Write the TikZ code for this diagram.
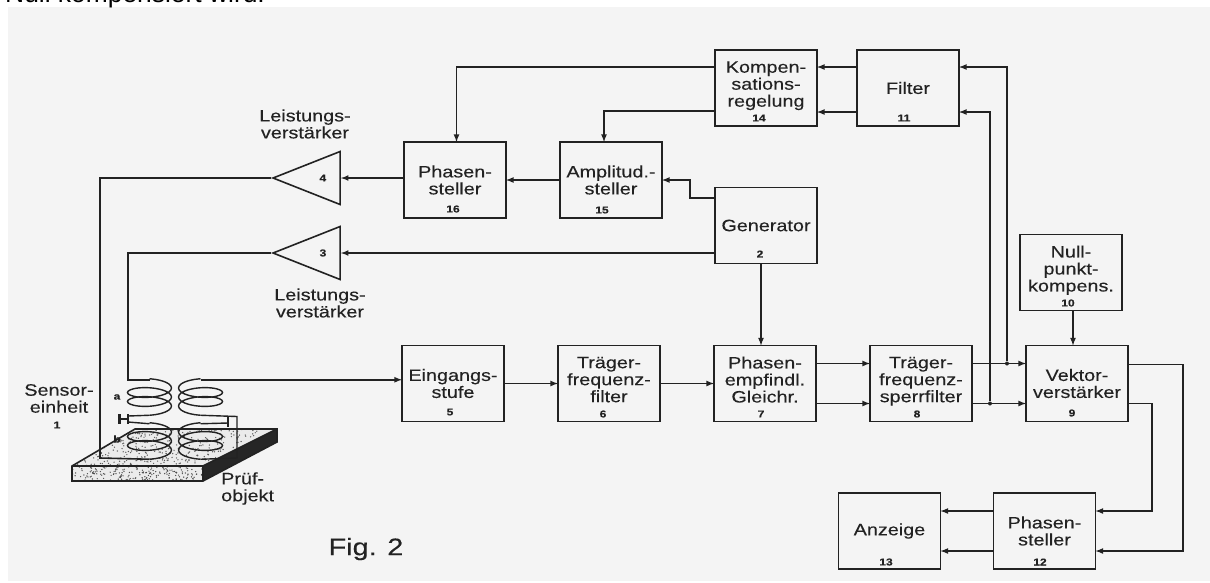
\documentclass[tikz,border=0pt]{standalone}
\usepackage{fontspec}
\setmainfont[FakeStretch=1.2,FakeBold=0.2]{Liberation Sans}
\newfontfamily\plainfont{Liberation Sans}
\usetikzlibrary{shapes,arrows,positioning}
\definecolor{PageGray}{RGB}{244, 244, 244}
\definecolor{Ink}{RGB}{34, 34, 34}
\newcommand{\drawcoil}[3]{\draw[coil] plot[smooth, domain=-90:810, samples=61] ({#1+#3*22*cos(\x)},{#2+7*sin(\x)+9*(\x-360)/360});}

\begin{document}
\begin{tikzpicture}[
    x=1pt, y=-1pt,
    block/.style={rectangle, draw=Ink, line width=1.6pt, outer sep=0pt, minimum width=102pt, minimum height=76pt, inner sep=0pt, align=center, text=Ink, font=\fontsize{16.5}{17}\selectfont},
    num/.style={inner sep=0pt, text=Ink, font=\bfseries\fontsize{10}{11}\selectfont},
    caption/.style={inner sep=0pt, align=center, text=Ink, font=\fontsize{16.5}{17}\selectfont},
    amp/.style={isosceles triangle, isosceles triangle stretches, shape border rotate=180, draw=Ink, line width=1.6pt, minimum width=53pt, minimum height=67pt, inner sep=0pt, anchor=apex, text=Ink, font=\bfseries\fontsize{10}{11}\selectfont},
    wire/.style={draw=Ink, line width=1.6pt},
    coil/.style={draw=Ink, line width=1.4pt},
    arrow/.style={->, >=latex, wire},
    joint/.style={circle, fill=Ink, inner sep=0pt, minimum size=4pt}
  ]
    \useasboundingbox (0,0) rectangle (1210,582);
    \fill[PageGray] (8,7) rectangle (1210,581);
    \begin{scope}
      \clip (0,0) rectangle (1210,7);
      \node[anchor=base west, inner sep=0pt, font=\plainfont\fontsize{26.4}{28}\selectfont] (head) at (5,2) {Null kompensiert wird.};
    \end{scope}

    % test object
    \fill[black!8] (72,466) -- (135,429) -- (277,429) -- (203,466) -- cycle;
    \fill[black!8] (72,466) rectangle (203,481);
    \pgfmathsetseed{7}
    \foreach \i in {1,...,300} {
      \pgfmathsetmacro{\u}{rnd}
      \pgfmathsetmacro{\v}{rnd}
      \fill[black!65] ({72+131*\u+63*\v},{466-37*\v}) circle (0.7pt);
    }
    \foreach \i in {1,...,200} {
      \fill[black!70] ({72+131*rnd},{466+15*rnd}) circle (0.7pt);
    }
    \fill[black!85] (203,466) -- (277,429) -- (277,442) -- (203,481) -- cycle;
    \draw[wire] (135,429) -- (277,429) -- (277,442) -- (203,481) -- (72,481) -- (72,466) -- cycle;
    \draw[wire] (72,466) -- (203,466) -- (277,429);
    \draw[wire] (203,466) -- (203,481);

    % blocks
    \node[block] (b5) at (453,383.5) {Eingangs-\\stufe};
    \node[block, right=54pt of b5] (b6) {Träger-\\frequenz-\\filter\\[-9pt]~};
    \node[block, right=54pt of b6] (b7) {Phasen-\\empfindl.\\Gleichr.\\[-9pt]~};
    \node[block, right=54pt of b7] (b8) {Träger-\\frequenz-\\sperrfilter\\[-9pt]~};
    \node[block, right=54pt of b8] (b9) {Vektor-\\verstärker};
    \node[block] (b14) at (766,88) {Kompen-\\sations-\\regelung\\[-9pt]~};
    \node[block, right=40pt of b14] (b11) {Filter};
    \node[block] (b2) at (766,225.5) {Generator};
    \node[block] (b15) at (611,180) {Amplitud.-\\steller};
    \node[block, left=54pt of b15] (b16) {Phasen-\\steller};
    \node[block] (b10) at (1071,272.5) {Null-\\punkt-\\kompens.\\[-9pt]~};
    \node[block] (b12) at (1044.5,531) {Phasen-\\steller};
    \node[block, left=53pt of b12] (b13) {Anzeige};

    \foreach \n/\x/\y in {2/760/254, 5/450/412, 6/603/414, 7/761/414, 8/917/414, 9/1072/413, 10/1068/303, 11/904/118, 12/1040/562, 13/886/562, 14/759/118, 15/602/210, 16/453/209}
      \node[num] (n\n) at (\x,\y) {\n};

    % amplifiers
    \node[amp] (t4) at (271,178) {4};
    \node[amp] (t3) at (271,253) {3};
    \node[caption] (c4) at (305,124) {Leistungs-\\verstärker};
    \node[caption] (c3) at (320,303) {Leistungs-\\verstärker};

    % sensor
    \node[caption] (c1) at (59,398.5) {Sensor-\\einheit};
    \node[num] (n1) at (57,425) {1};
    \node[caption, align=left, anchor=west] (c0) at (221,488.5) {Prüf-\\objekt};
    \node[num] (na) at (117,397) {a};
    \node[num] (nb) at (117,439) {b};
    \node[inner sep=0pt, text=Ink, font=\fontsize{24}{26}\selectfont] (fig) at (366,549) {Fig. 2};

    \drawcoil{149.5}{397}{1}
    \drawcoil{200.5}{397}{-1}
    \drawcoil{149.5}{441}{1}
    \drawcoil{200.5}{441}{-1}
    \coordinate (aLtop) at (149.5,379.75);
    \coordinate (aLbot) at (149.5,415.25);
    \coordinate (aRtop) at (200.5,379.75);
    \coordinate (aRbot) at (200.5,415.25);
    \coordinate (bLtop) at (149.5,423.75);
    \coordinate (bLbot) at (149.5,459.25);
    \coordinate (bRtop) at (200.5,423.75);
    \coordinate (bRbot) at (200.5,459.25);

    % capacitors
    \coordinate (capL) at (128,419);
    \coordinate (capR) at (228,422);
    \draw[line width=3pt, draw=Ink] (119,414) -- (119,424);
    \draw[line width=1.8pt, draw=Ink] (capL) ++(0,-5) -- ++(0,10);
    \draw[wire] (119,419) -- (capL);
    \draw[line width=2pt, draw=Ink] (capR) ++(0,-5) -- ++(0,10);
    \draw[coil] (aLbot) -- (128,416);
    \draw[coil] (bLtop) -- (128,422);
    \draw[coil] (aRbot) -- (237,416.5) -- (237,458);
    \draw[coil] (bRtop) -- (228,423);
    \draw[coil] (bRbot) -- (237,458);

    % connectors
    \draw[wire] (t4.apex) -| (100,458) -- (bLbot);
    \draw[wire] (t3.apex) -| (128,379.75) -- (aLtop);
    \draw[arrow] (aRtop) -- (b5.west |- aRtop);
    \draw[arrow] (b5) -- (b6);
    \draw[arrow] (b6) -- (b7);
    \draw[arrow] ([yshift=20pt]b7.east) -- ([yshift=20pt]b8.west);
    \draw[arrow] ([yshift=-20pt]b7.east) -- ([yshift=-20pt]b8.west);
    \draw[arrow] ([xshift=-5pt]b2.south) -- ([xshift=-4pt]b7.north);
    \draw[arrow] ([yshift=27.5pt]b2.west) -- ++(-25,0) |- (b15.east);
    \draw[arrow] (b2.west |- t3.lower side) -- (t3.lower side);
    \draw[arrow] (b15) -- (b16);
    \draw[arrow] (b16.west |- t4.lower side) -- (t4.lower side);
    \draw[arrow] ([yshift=21pt]b11.west) -- ([yshift=21pt]b14.east);
    \draw[arrow] ([yshift=-24pt]b11.west) -- ([yshift=-24pt]b14.east);
    \draw[arrow] ([yshift=21pt]b14.west) -| ([xshift=1.5pt]b16.north);
    \draw[arrow] ([yshift=-23pt]b14.west) -| ([xshift=-7pt]b15.north);
    \draw[arrow] ([xshift=2pt]b10.south) -- ([xshift=2pt]b10.south |- b9.north);
    \draw[arrow] ([yshift=20pt]b8.east) -- ([yshift=20pt]b9.west);
    \draw[arrow] ([yshift=-20pt]b8.east) -- ([yshift=-20pt]b9.west);
    \node[joint] (j1) at (1007,363.5) {};
    \node[joint] (j2) at (990,403.5) {};
    \draw[arrow] (j1) |- ([yshift=21pt]b11.east);
    \draw[arrow] (j2) |- ([yshift=-24pt]b11.east);
    \draw[arrow] ([yshift=19pt]b9.east) -- ++(55,0) |- ([yshift=-20pt]b12.east);
    \draw[arrow] ([yshift=-20pt]b9.east) -- ++(24,0) |- ([yshift=20pt]b12.east);
    \draw[arrow] ([yshift=20pt]b12.west) -- ([yshift=20pt]b13.east);
    \draw[arrow] ([yshift=-20pt]b12.west) -- ([yshift=-20pt]b13.east);
  \end{tikzpicture}
\end{document}
